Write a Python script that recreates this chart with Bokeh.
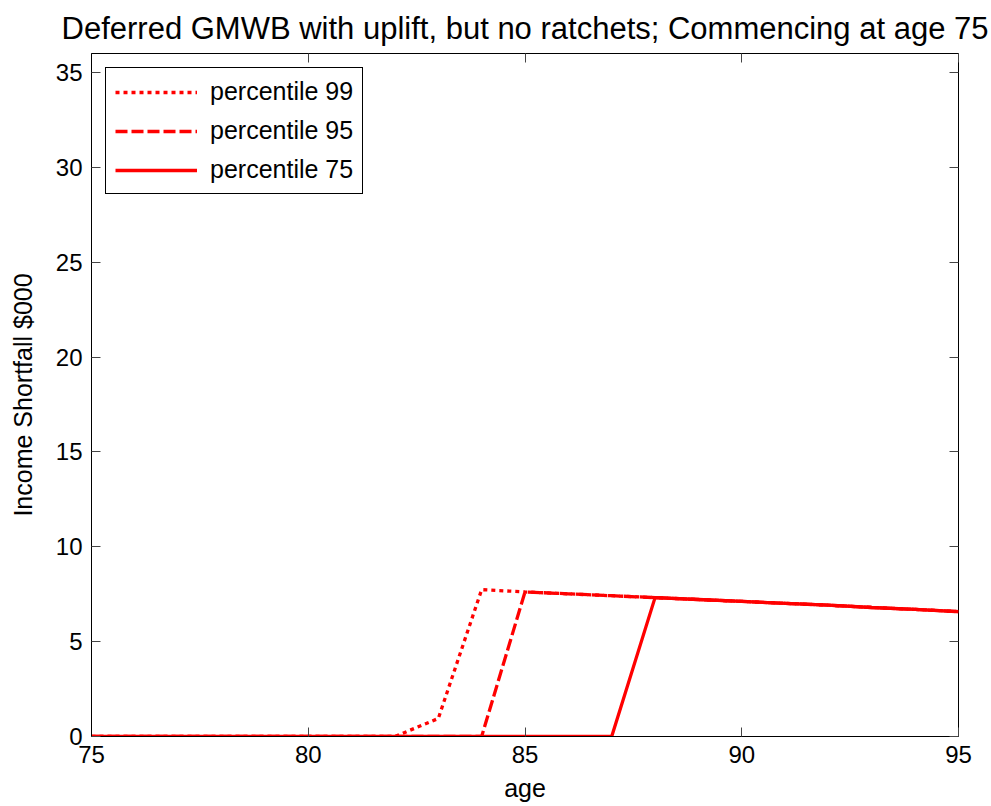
from bokeh.plotting import figure
from bokeh.models import LinearAxis, Range1d, Legend, LegendItem, FixedTicker
from bokeh.embed import file_html
from bokeh.resources import INLINE

ages = list(range(75, 96))
p99 = [0, 0, 0, 0, 0, 0, 0, 0, 0.95, 7.74, 7.62, 7.52, 7.42, 7.32, 7.22, 7.12, 7.02, 6.92, 6.80, 6.70, 6.58]
p95 = [0, 0, 0, 0, 0, 0, 0, 0, 0, 0, 7.62, 7.52, 7.42, 7.32, 7.22, 7.12, 7.02, 6.92, 6.80, 6.70, 6.58]
p75 = [0, 0, 0, 0, 0, 0, 0, 0, 0, 0, 0, 0, 0, 7.32, 7.22, 7.12, 7.02, 6.92, 6.80, 6.70, 6.58]
x_ticks = [75, 80, 85, 90, 95]
y_ticks = [0, 5, 10, 15, 20, 25, 30, 35]

FONT = "Liberation Sans"

p = figure(frame_width=867, frame_height=683, output_backend="svg", toolbar_location=None,
           x_range=Range1d(75, 95), y_range=Range1d(0, 36),
           min_border_left=91, min_border_right=33, min_border_top=53, min_border_bottom=70,
           title="Deferred GMWB with uplift, but no ratchets; Commencing at age 75")
p.title.text_font = FONT
p.title.text_font_size = "31px"
p.title.text_font_style = "normal"
p.title.text_color = "black"
p.title.align = "center"
p.title.standoff = 16
p.xgrid.visible = False
p.ygrid.visible = False
p.outline_line_color = "black"
p.outline_line_width = 1

l1 = p.line(ages, p99, line_color="red", line_width=3.3, line_dash="4 4")
l2 = p.line(ages, p95, line_color="red", line_width=3.3, line_dash="12 4")
l3 = p.line(ages, p75, line_color="red", line_width=3.3)

for ax in (p.xaxis[0], p.yaxis[0]):
    ax.major_tick_in = 9
    ax.major_tick_out = 0
    ax.minor_tick_line_color = None
    ax.axis_line_color = "black"
    ax.major_tick_line_color = "#444444"
    ax.major_label_text_font = FONT
    ax.major_label_text_font_size = "24px"
    ax.major_label_text_color = "black"
    ax.axis_label_text_font = FONT
    ax.axis_label_text_font_size = "25px"
    ax.axis_label_text_font_style = "normal"
    ax.axis_label_text_color = "black"

p.xaxis[0].ticker = FixedTicker(ticks=x_ticks)
p.yaxis[0].ticker = FixedTicker(ticks=y_ticks)
p.xaxis[0].axis_label = "age"
p.yaxis[0].axis_label = "Income Shortfall $000"
p.xaxis[0].major_label_standoff = 9
p.xaxis[0].axis_label_standoff = 8
p.yaxis[0].major_label_standoff = 9
p.yaxis[0].axis_label_standoff = 16

top = LinearAxis(ticker=FixedTicker(ticks=x_ticks), major_label_overrides={t: "" for t in x_ticks})
right = LinearAxis(ticker=FixedTicker(ticks=y_ticks), major_label_overrides={t: "" for t in y_ticks})
for ax in (top, right):
    ax.major_tick_in = 9
    ax.major_tick_out = 0
    ax.minor_tick_line_color = None
    ax.axis_line_color = None
    ax.major_tick_line_color = "#444444"
    ax.major_label_text_font_size = "1px"
    ax.major_label_standoff = 0
p.add_layout(top, "above")
p.add_layout(right, "right")

legend = Legend(items=[LegendItem(label="percentile 99", renderers=[l1]),
                       LegendItem(label="percentile 95", renderers=[l2]),
                       LegendItem(label="percentile 75", renderers=[l3])],
                location="top_left")
legend.margin = 14
legend.padding = 9
legend.spacing = 10
legend.label_height = 28
legend.glyph_height = 28
legend.glyph_width = 82
legend.label_standoff = 13
legend.label_text_font = FONT
legend.label_text_font_size = "25px"
legend.label_text_color = "black"
legend.border_line_color = "black"
legend.border_line_width = 1
legend.border_line_alpha = 1
legend.background_fill_alpha = 1
p.add_layout(legend, "center")

open("out.html", "w").write(file_html(p, INLINE))
